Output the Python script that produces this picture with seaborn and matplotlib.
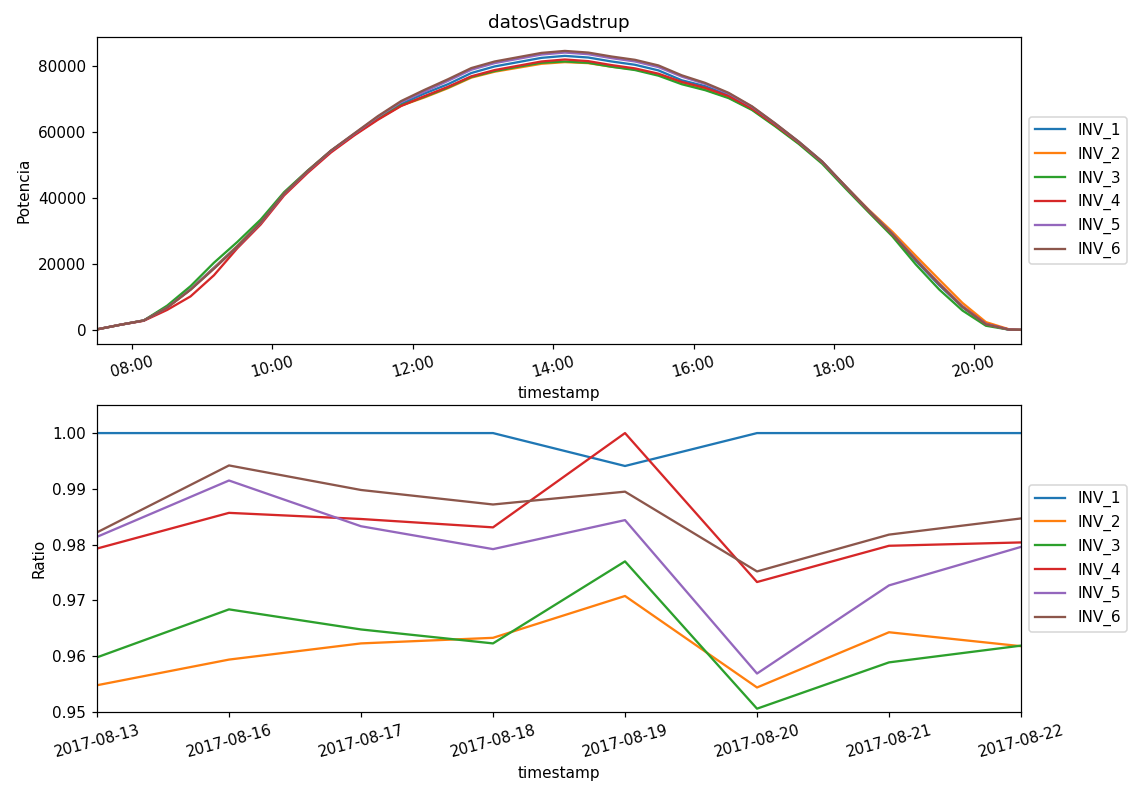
import matplotlib
matplotlib.use('Agg')
import matplotlib.pyplot as plt
import matplotlib.dates as mdates
import seaborn as sb
import pandas as pd

# --- potencia de un dia (lecturas cada 20 min) ---
horas = ['07:30', '07:50', '08:10', '08:30', '08:50', '09:10', '09:30', '09:50',
         '10:10', '10:30', '10:50', '11:10', '11:30', '11:50', '12:10', '12:30',
         '12:50', '13:10', '13:30', '13:50', '14:10', '14:30', '14:50', '15:10',
         '15:30', '15:50', '16:10', '16:30', '16:50', '17:10', '17:30', '17:50',
         '18:10', '18:30', '18:50', '19:10', '19:30', '19:50', '20:10', '20:30',
         '20:40']

inv_1 = [200, 1600, 2900, 6900, 12400, 18900, 25500, 32700, 41400, 48100, 54300,
         59400, 64200, 68500, 71700, 74500, 77900, 79900, 81200, 82500, 83100,
         82600, 81400, 80400, 78700, 75700, 73900, 71200, 67400, 62400, 57000,
         51000, 43500, 36100, 28900, 21000, 13600, 6900, 1700, 100, 50]
inv_2 = [200, 1600, 2900, 6800, 12300, 18800, 25400, 32600, 41300, 48000, 54100,
         59200, 63900, 68000, 70500, 73300, 76500, 78300, 79500, 80700, 81200,
         80900, 79800, 79000, 77400, 74800, 72900, 70500, 66900, 61900, 56600,
         50800, 43500, 36400, 29800, 22500, 15300, 8200, 2400, 200, 50]
inv_3 = [200, 1600, 2900, 7400, 13300, 20400, 26700, 33500, 41800, 48300, 54300,
         59300, 64000, 68100, 70700, 73500, 76700, 78500, 79800, 81000, 81400,
         81000, 79800, 78800, 77100, 74500, 72700, 70300, 66700, 61700, 56400,
         50400, 42900, 35600, 28400, 19900, 12300, 5900, 1300, 100, 50]
inv_4 = [200, 1600, 2800, 6100, 10200, 16600, 24800, 32000, 40800, 47600, 53800,
         59000, 63700, 67900, 70900, 73700, 76900, 78800, 80100, 81400, 82000,
         81500, 80300, 79300, 77700, 75200, 73400, 70900, 67100, 62100, 56800,
         50900, 43400, 36000, 29000, 21400, 14100, 7200, 1900, 150, 50]
inv_5 = [200, 1600, 2900, 6800, 12300, 18700, 25200, 32500, 41300, 48100, 54300,
         59500, 64600, 69100, 72300, 75500, 78900, 80900, 82200, 83500, 84100,
         83600, 82400, 81400, 79700, 76800, 74600, 71700, 67700, 62500, 57000,
         51000, 43500, 36200, 29200, 21500, 14000, 7100, 1800, 100, 50]
inv_6 = [200, 1600, 2900, 6800, 12200, 18600, 25300, 32600, 41400, 48200, 54400,
         59600, 64800, 69400, 72800, 76000, 79400, 81400, 82700, 84000, 84600,
         84100, 82900, 81900, 80200, 77200, 74900, 71900, 67800, 62600, 57100,
         51100, 43600, 36200, 29100, 21300, 13900, 7000, 1700, 100, 50]

# --- ratio por dia ---
dias = ['2017-08-13', '2017-08-16', '2017-08-17', '2017-08-18',
        '2017-08-19', '2017-08-20', '2017-08-21', '2017-08-22']
r_inv_1 = [1.0, 1.0, 1.0, 1.0, 0.9941, 1.0, 1.0, 1.0]
r_inv_2 = [0.9548, 0.9594, 0.9623, 0.9633, 0.9708, 0.9544, 0.9643, 0.9618]
r_inv_3 = [0.9598, 0.9684, 0.9648, 0.9623, 0.9770, 0.9506, 0.9589, 0.9619]
r_inv_4 = [0.9793, 0.9857, 0.9846, 0.9831, 1.0, 0.9733, 0.9798, 0.9804]
r_inv_5 = [0.9814, 0.9915, 0.9833, 0.9792, 0.9844, 0.9569, 0.9727, 0.9796]
r_inv_6 = [0.9822, 0.9942, 0.9898, 0.9872, 0.9895, 0.9752, 0.9818, 0.9847]

nombres = ['INV_1', 'INV_2', 'INV_3', 'INV_4', 'INV_5', 'INV_6']
potencias = [inv_1, inv_2, inv_3, inv_4, inv_5, inv_6]
ratios = [r_inv_1, r_inv_2, r_inv_3, r_inv_4, r_inv_5, r_inv_6]

ts = pd.to_datetime(['2017-08-22 ' + h for h in horas])
df_pot = pd.concat([pd.DataFrame({'timestamp': ts, 'Potencia': p, 'inv': n})
                    for n, p in zip(nombres, potencias)], ignore_index=True)
df_rat = pd.concat([pd.DataFrame({'timestamp': dias, 'Ratio': r, 'inv': n})
                    for n, r in zip(nombres, ratios)], ignore_index=True)

DPI = 110
fig, (ax1, ax2) = plt.subplots(2, 1, figsize=(1137 / DPI, 790 / DPI), dpi=DPI)
fig.subplots_adjust(left=0.0853, right=0.898, top=0.9532, bottom=0.0987, hspace=0.2)

# plot potencia
sb.lineplot(data=df_pot, x='timestamp', y='Potencia', hue='inv', palette='tab10',
            linewidth=1.5, ax=ax1)
ax1.set_xlim(ts[0], ts[-1])
ax1.xaxis.set_major_locator(mdates.HourLocator(byhour=range(0, 24, 2)))
ax1.xaxis.set_major_formatter(mdates.DateFormatter('%H:%M'))
ax1.set_title('datos\\Gadstrup')
h, l = ax1.get_legend_handles_labels()
ax1.legend(h, l, loc='center left', bbox_to_anchor=(1.0, 0.5))
plt.setp(ax1.get_xticklabels(), rotation=15)

# plot ratio
sb.lineplot(data=df_rat, x='timestamp', y='Ratio', hue='inv', palette='tab10',
            linewidth=1.5, ax=ax2)
ax2.set_xlim(0, len(dias) - 1)
ax2.set_ylim(0.95, 1.005)
h, l = ax2.get_legend_handles_labels()
ax2.legend(h, l, loc='center left', bbox_to_anchor=(1.0, 0.5))
plt.setp(ax2.get_xticklabels(), rotation=15)

fig.savefig('out.png', dpi=DPI)
